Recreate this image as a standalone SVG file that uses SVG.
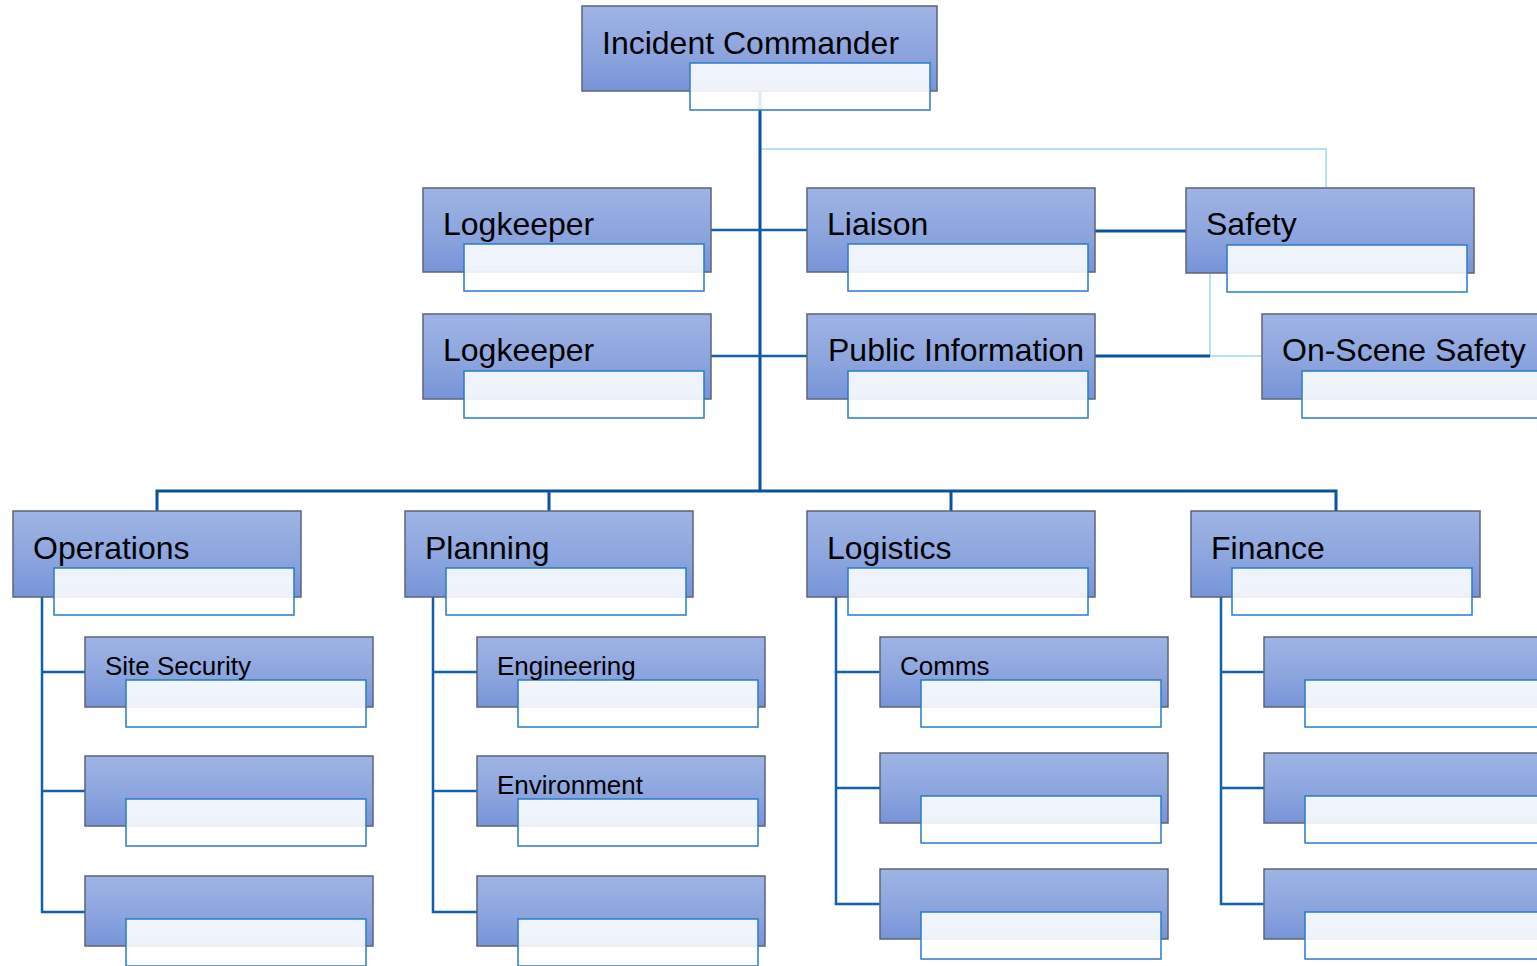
<svg xmlns="http://www.w3.org/2000/svg" width="1537" height="966" viewBox="0 0 1537 966">
<defs>
<linearGradient id="g" x1="0" y1="0" x2="0" y2="1">
<stop offset="0" stop-color="#9eb4e4"/>
<stop offset="0.55" stop-color="#8ca5de"/>
<stop offset="1" stop-color="#7794d8"/>
</linearGradient>
<style>
.m{fill:url(#g);stroke:#5d6477;stroke-width:1.5}
.s{fill:#ffffff;fill-opacity:0.88;stroke:#2a7bc9;stroke-width:1.5}
.t{font-family:"Liberation Sans",Arial,sans-serif;font-size:32px;fill:#000}
.tc{font-family:"Liberation Sans",Arial,sans-serif;font-size:26px;fill:#000}
.d{fill:none;stroke:#0b529c;stroke-width:3}
.c{fill:none;stroke:#1060ad;stroke-width:2.5}
.l{fill:none;stroke:#a3d6ec;stroke-width:1.5}
</style>
</defs>
<rect width="1537" height="966" fill="#fff"/>
<g id="connectors">
<path class="l" d="M760,149 H1326 V188"/>
<path class="l" d="M1210,273 V356 H1262"/>
<path class="d" d="M760,91 V491"/>
<path class="d" d="M157,511 V491 H1336 V511"/>
<path class="d" d="M549,491 V511 M951,491 V511"/>
<path class="c" d="M711,230 H807"/>
<path class="c" d="M711,356 H807"/>
<path class="d" d="M1095,231 H1186"/>
<path class="d" d="M1095,356 H1210"/>
<path class="c" d="M42,597 V912 H85 M42,672 H85 M42,791 H85"/>
<path class="c" d="M433,597 V912 H477 M433,672 H477 M433,791 H477"/>
<path class="c" d="M836,597 V904 H880 M836,672 H880 M836,788 H880"/>
<path class="c" d="M1221,597 V904 H1264 M1221,672 H1264 M1221,788 H1264"/>
</g>
<g id="incident-commander"><rect class="m" x="582" y="6" width="355" height="85"/><rect class="s" x="690" y="63" width="240" height="47"/><text class="t" x="602" y="54">Incident Commander</text></g>
<g id="logkeeper-1"><rect class="m" x="423" y="188" width="288" height="84"/><rect class="s" x="464" y="244" width="240" height="47"/><text class="t" x="443" y="235">Logkeeper</text></g>
<g id="logkeeper-2"><rect class="m" x="423" y="314" width="288" height="85"/><rect class="s" x="464" y="371" width="240" height="47"/><text class="t" x="443" y="361">Logkeeper</text></g>
<g id="liaison"><rect class="m" x="807" y="188" width="288" height="84"/><rect class="s" x="848" y="244" width="240" height="47"/><text class="t" x="827" y="235">Liaison</text></g>
<g id="public-information"><rect class="m" x="807" y="314" width="288" height="85"/><rect class="s" x="848" y="371" width="240" height="47"/><text class="t" x="828" y="361">Public Information</text></g>
<g id="safety"><rect class="m" x="1186" y="188" width="288" height="85"/><rect class="s" x="1227" y="245" width="240" height="47"/><text class="t" x="1206" y="235">Safety</text></g>
<g id="on-scene-safety"><rect class="m" x="1262" y="314" width="288" height="85"/><rect class="s" x="1302" y="371" width="240" height="47"/><text class="t" x="1282" y="361">On-Scene Safety</text></g>
<g id="operations"><rect class="m" x="13" y="511" width="288" height="86"/><rect class="s" x="54" y="568" width="240" height="47"/><text class="t" x="33" y="559">Operations</text></g>
<g id="planning"><rect class="m" x="405" y="511" width="288" height="86"/><rect class="s" x="446" y="568" width="240" height="47"/><text class="t" x="425" y="559">Planning</text></g>
<g id="logistics"><rect class="m" x="807" y="511" width="288" height="86"/><rect class="s" x="848" y="568" width="240" height="47"/><text class="t" x="827" y="559">Logistics</text></g>
<g id="finance"><rect class="m" x="1191" y="511" width="289" height="86"/><rect class="s" x="1232" y="568" width="240" height="47"/><text class="t" x="1211" y="559">Finance</text></g>
<g id="site-security"><rect class="m" x="85" y="637" width="288" height="70"/><rect class="s" x="126" y="680" width="240" height="47"/><text class="tc" x="105" y="675">Site Security</text></g>
<g id="ops-2"><rect class="m" x="85" y="756" width="288" height="70"/><rect class="s" x="126" y="799" width="240" height="47"/></g>
<g id="ops-3"><rect class="m" x="85" y="876" width="288" height="70"/><rect class="s" x="126" y="919" width="240" height="47"/></g>
<g id="engineering"><rect class="m" x="477" y="637" width="288" height="70"/><rect class="s" x="518" y="680" width="240" height="47"/><text class="tc" x="497" y="675">Engineering</text></g>
<g id="environment"><rect class="m" x="477" y="756" width="288" height="70"/><rect class="s" x="518" y="799" width="240" height="47"/><text class="tc" x="497" y="794">Environment</text></g>
<g id="plan-3"><rect class="m" x="477" y="876" width="288" height="70"/><rect class="s" x="518" y="919" width="240" height="47"/></g>
<g id="comms"><rect class="m" x="880" y="637" width="288" height="70"/><rect class="s" x="921" y="680" width="240" height="47"/><text class="tc" x="900" y="675">Comms</text></g>
<g id="log-2"><rect class="m" x="880" y="753" width="288" height="70"/><rect class="s" x="921" y="796" width="240" height="47"/></g>
<g id="log-3"><rect class="m" x="880" y="869" width="288" height="70"/><rect class="s" x="921" y="912" width="240" height="47"/></g>
<g id="fin-1"><rect class="m" x="1264" y="637" width="288" height="70"/><rect class="s" x="1305" y="680" width="240" height="47"/></g>
<g id="fin-2"><rect class="m" x="1264" y="753" width="288" height="70"/><rect class="s" x="1305" y="796" width="240" height="47"/></g>
<g id="fin-3"><rect class="m" x="1264" y="869" width="288" height="70"/><rect class="s" x="1305" y="912" width="240" height="47"/></g>
</svg>
